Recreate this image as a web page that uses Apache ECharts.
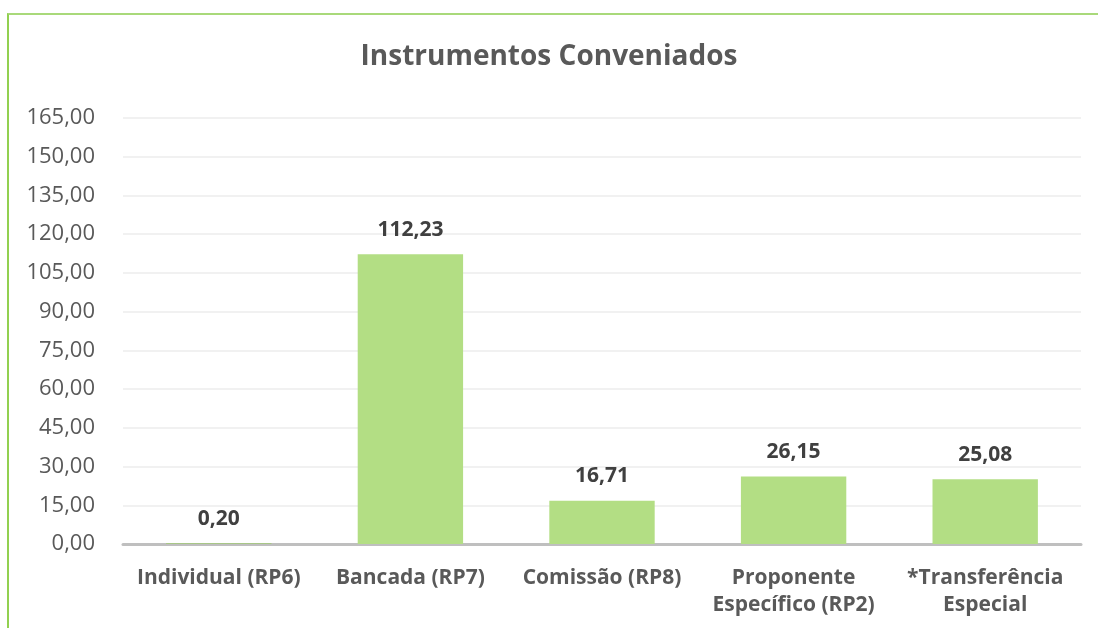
<!DOCTYPE html>
<html>
<head>
<meta charset="utf-8">
<script src="https://cdn.jsdelivr.net/npm/echarts@6/dist/echarts.min.js"></script>
<style>
  html, body { margin: 0; padding: 0; background: #fff; }
  #wrap { position: relative; width: 1098px; height: 628px; }
  #container { position: absolute; left: 0; top: 0; width: 1098px; height: 628px; }
  /* moldura verde (só esquerda e topo aparecem no recorte) */
  #frame { position: absolute; left: 7px; top: 13px; right: 0; bottom: 0;
           border-left: 2px solid #92d050; border-top: 2px solid #a9d97a; pointer-events: none; }
</style>
</head>
<body>
<div id="wrap">
  <div id="container"></div>
  <div id="frame"></div>
</div>
<script>
/* Instrumentos Conveniados - barras */
var categorias = ['Individual (RP6)', 'Bancada (RP7)', 'Comissão (RP8)', 'Proponente\nEspecífico (RP2)', '*Transferência\nEspecial'];
var valores = [0.20, 112.23, 16.71, 26.15, 25.08];
var eixoMin = 0, eixoMax = 165, eixoPasso = 15;

var fonte = '"Open Sans", sans-serif';
var dom = document.getElementById('container');
var myChart = echarts.init(dom);

function fmt(v) {
	return Number(v).toFixed(2).replace('.', ',');
}

var option = {
	animation: false,
	title: {
		text: 'Instrumentos Conveniados',
		left: 'center',
		top: 38,
		textStyle: {
			fontFamily: fonte,
			fontWeight: 'bold',
			fontSize: 28,
			color: '#595959'
		}
	},
	grid: {
		left: 123,
		right: 17,
		top: 118,
		bottom: 84
	},
	xAxis: {
		type: 'category',
		data: categorias,
		axisTick: { show: false },
		axisLine: {
			lineStyle: { color: '#bfbfbf', width: 3 }
		},
		axisLabel: {
			interval: 0,
			margin: 21,
			fontFamily: fonte,
			fontWeight: 'bold',
			fontSize: 21,
			lineHeight: 27,
			color: '#595959'
		}
	},
	yAxis: {
		type: 'value',
		min: eixoMin,
		max: eixoMax,
		interval: eixoPasso,
		axisLine: { show: false },
		axisTick: { show: false },
		splitLine: {
			lineStyle: { color: '#ececec', width: 1.5 }
		},
		axisLabel: {
			margin: 28,
			fontFamily: fonte,
			fontSize: 22,
			color: '#595959',
			formatter: function(v) { return fmt(v); }
		}
	},
	series: [{
		type: 'bar',
		barWidth: '55%',
		data: valores.map(function(v, i) {
			// a primeira barra aparece num verde mais forte
			return i === 0 ? { value: v, itemStyle: { color: '#92d050' } } : v;
		}),
		itemStyle: { color: '#b3de84' },
		label: {
			show: true,
			position: 'top',
			distance: 14,
			fontFamily: fonte,
			fontWeight: 'bold',
			fontSize: 21,
			color: '#404040',
			formatter: function(p) { return fmt(p.value); }
		}
	}]
};
myChart.setOption(option);
</script>
</body>
</html>
